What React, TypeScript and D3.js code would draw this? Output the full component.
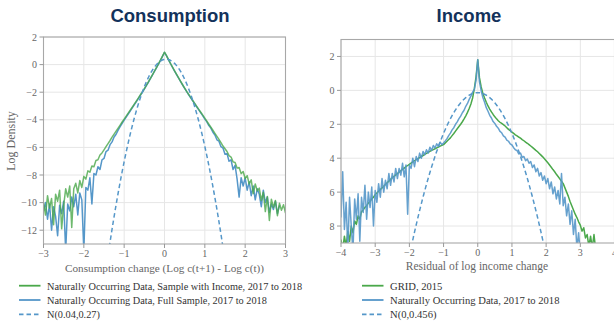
import React from "react";
import * as d3 from "d3";

// ---- Consumption panel: log density on a grid from -3 to 3, step 0.05 ----
const consGridStart = -3;
const consGridStep = 0.05;
const consIncomeSample = [
  -10.0, -10.9, -9.5, -10.4, -9.7, -11.6, -9.4, -9.9, -9.1, -11.9,
  -10.2, -9.0, -9.6, -8.8, -11.8, -9.0, -8.6, -9.3, -8.4, -8.9,
  -8.1, -8.3, -7.7, -7.8, -7.35, -7.4, -6.95, -6.9, -6.55, -6.4,
  -6.18, -5.95, -5.72, -5.5, -5.26, -5.04, -4.82, -4.6, -4.38, -4.16,
  -3.95, -3.73, -3.52, -3.3, -3.09, -2.87, -2.65, -2.43, -2.2, -1.98,
  -1.74, -1.5, -1.25, -1.0, -0.74, -0.48, -0.22, 0.05, 0.33, 0.62,
  0.9, 0.65, 0.36, 0.08, -0.19, -0.45, -0.71, -0.96, -1.21, -1.46,
  -1.7, -1.94, -2.16, -2.38, -2.6, -2.82, -3.03, -3.24, -3.45, -3.66,
  -3.88, -4.1, -4.32, -4.54, -4.76, -4.98, -5.2, -5.42, -5.65, -5.9,
  -6.1, -6.3, -6.6, -6.7, -7.05, -7.1, -7.5, -7.45, -7.9, -7.75,
  -8.25, -8.05, -8.65, -8.35, -9.35, -8.65, -9.15, -8.95, -9.85, -9.25,
  -10.65, -9.55, -11.3, -9.75, -10.35, -9.85, -10.95, -10.05, -10.55, -10.15,
  -10.75,
];
const consFullSample: (number | null)[] = [
  -10.6, -10.0, -11.2, -10.1, -12.0, -10.3, -11.0, -12.4, -10.2, -10.8,
  -9.9, -13.5, -10.1, -10.6, -9.6, -10.3, -9.4, -10.9, -9.3, -9.8,
  -13.5, -8.9, -9.1, -8.2, -10.1, -7.9, -8.0, -7.4, -7.6, -6.9,
  -6.8, -6.3, -6.2, -5.8, -5.6, -5.25, -5.05, -4.75, -4.5, -4.25,
  -4.02, -3.8, -3.58, -3.36, -3.14, -2.92, -2.7, -2.47, -2.24, -2.01,
  -1.77, -1.53, -1.28, -1.02, -0.76, -0.5, -0.24, 0.03, 0.31, 0.6,
  0.88, 0.63, 0.34, 0.06, -0.21, -0.47, -0.73, -0.98, -1.23, -1.48,
  -1.72, -1.96, -2.19, -2.41, -2.63, -2.85, -3.07, -3.28, -3.5, -3.72,
  -3.95, -4.15, -4.42, -4.6, -4.9, -5.1, -5.45, -5.55, -5.95, -6.05,
  -6.5, -6.45, -7.0, -6.9, -7.6, -7.3, -8.3, -9.6, -8.2, -8.8,
  -8.2, -9.1, -8.5, -9.5, -8.8, -9.8, -9.0, -9.4, -10.3, -9.1,
  -10.0, -9.6, -10.7, -10.1, -10.5, -9.9, -10.8, -10.2, null, null,
  null,
];
const consNormal = { mean: 0.04, sd: 0.27 };
const consXTicks = [-3, -2, -1, 0, 1, 2, 3];
const consYTicks = [-12, -10, -8, -6, -4, -2, 0, 2];

// ---- Income panel: log density on a grid from -4 to 3.5, step 0.05 ----
const incGridStart = -4;
const incGridStep = 0.05;
const incGrid2015: (number | null)[] = [
  -8.8, -9.4, -8.6, -9.2, -8.3, -8.9, -8.0, -8.4, -7.7, -7.9,
  -7.4, -7.6, -7.15, -7.05, -6.9, -6.8, -6.65, -6.55, -6.4, -6.3,
  -6.15, -6.05, -5.95, -5.85, -5.75, -5.65, -5.55, -5.45, -5.35, -5.25,
  -5.15, -5.07, -4.98, -4.9, -4.82, -4.74, -4.66, -4.58, -4.5, -4.43,
  -4.36, -4.29, -4.22, -4.15, -4.08, -4.02, -3.96, -3.9, -3.84, -3.78,
  -3.72, -3.66, -3.6, -3.54, -3.49, -3.44, -3.39, -3.34, -3.29, -3.24,
  -3.2, -3.1, -3.0, -2.9, -2.8, -2.67, -2.54, -2.4, -2.26, -2.13,
  -2.0, -1.85, -1.68, -1.5, -1.3, -1.07, -0.8, -0.45, 0.1, 0.8,
  1.8, 0.75, 0.2, -0.18, -0.45, -0.7, -0.92, -1.1, -1.27, -1.42,
  -1.56, -1.68, -1.79, -1.88, -1.95, -2.02, -2.1, -2.2, -2.3, -2.38,
  -2.46, -2.54, -2.62, -2.68, -2.75, -2.82, -2.9, -2.97, -3.05, -3.12,
  -3.2, -3.28, -3.36, -3.45, -3.54, -3.62, -3.72, -3.82, -3.92, -4.03,
  -4.15, -4.27, -4.4, -4.53, -4.67, -4.8, -4.95, -5.08, -5.22, -5.36,
  -5.5, -5.75, -6.0, -6.25, -6.55, -6.8, -7.05, -7.3, -7.5, -7.75,
  -7.95, -8.3, -8.1, -8.7, -8.5, -9.2, -8.6, -9.3, -8.5, -9.4,
  null,
];
const incNaturalData: (number | null)[] = [
  -7.5, -4.8, -8.2, -6.6, -9.4, -6.3, -8.0, -9.5, -6.4, -7.6,
  -6.1, -8.9, -6.3, -7.2, -5.6, -7.6, -6.0, -6.9, -5.7, -8.0,
  -5.9, -6.6, -5.5, -6.3, -5.2, -6.0, -5.3, -5.8, -4.9, -5.6,
  -4.9, -5.4, -4.6, -5.2, -4.6, -5.0, -4.3, -5.1, -4.4, -7.3,
  -4.4, -4.6, -4.0, -4.5, -3.9, -4.2, -3.7, -4.0, -3.6, -3.8,
  -3.5, -3.7, -3.35, -3.55, -3.25, -3.4, -3.15, -3.3, -3.05, -3.2,
  -3.1, -2.98, -2.85, -2.67, -2.52, -2.33, -2.2, -2.0, -1.86, -1.67,
  -1.52, -1.32, -1.17, -0.94, -0.77, -0.53, -0.34, -0.1, 0.05, 0.6,
  1.8, 0.5, -0.02, -0.42, -0.7, -1.02, -1.23, -1.47, -1.63, -1.84,
  -1.95, -2.12, -2.23, -2.42, -2.5, -2.68, -2.76, -2.93, -3.0, -3.16,
  -3.22, -3.38, -3.5, -3.55, -3.75, -3.7, -3.95, -3.9, -4.15, -4.05,
  -4.3, -4.2, -4.55, -4.4, -4.8, -4.6, -5.05, -4.85, -5.3, -5.05,
  -5.5, -5.2, -5.8, -5.4, -6.1, -5.7, -6.4, -5.9, -6.7, -4.9,
  -6.8, -6.3, -7.4, -6.7, -7.9, -7.1, -8.5, -7.6, -9.3, -8.4,
  -9.6, null, null, null, null, null, null, null, null, null,
  null,
];
const incNormal = { mean: 0, sd: 0.456 };
const incXTicks = [-4, -3, -2, -1, 0, 1, 2, 3, 4];
const incYTicks = [-8, -6, -4, -2, 0, 2];

const GREEN = "#4aa84a";
const BLUE = "#5597c9";
const TITLE = "#13325b";
const SERIF = "'Liberation Serif', 'DejaVu Serif', serif";
const SANS = "'Liberation Sans', Arial, sans-serif";

type Pt = [number, number];
type Series = { pts: [number, number | null][]; color: string; opacity?: number };

function gridPoints(start: number, step: number, vals: (number | null)[]): [number, number | null][] {
  return vals.map((v, i) => [start + i * step, v]);
}

// log density of the normal distribution named in the legend
function normalPoints(mean: number, sd: number, lo: number, hi: number): Pt[] {
  const c = -0.5 * Math.log(2 * Math.PI * sd * sd);
  return d3.range(lo, hi + 1e-9, 0.01).map((x) => [x, c - ((x - mean) * (x - mean)) / (2 * sd * sd)]);
}

type PanelProps = {
  id: string;
  x: d3.ScaleLinear<number, number>;
  y: d3.ScaleLinear<number, number>;
  xTicks: number[];
  yTicks: number[];
  yFmt: (v: number) => string;
  series: Series[];
  normal: Pt[];
};

function Panel({ id, x, y, xTicks, yTicks, yFmt, series, normal }: PanelProps) {
  const [x0, x1] = x.range();
  const [y0, y1] = y.range(); // y0 bottom, y1 top
  const line = d3
    .line<[number, number | null]>()
    .defined((d) => d[1] !== null)
    .x((d) => x(d[0]))
    .y((d) => y(d[1] as number));
  const nline = d3
    .line<Pt>()
    .x((d) => x(d[0]))
    .y((d) => y(d[1]));
  const fmt = (v: number) => (v < 0 ? "\u2212" + Math.abs(v) : String(v));
  return (
    <g>
      <defs>
        <clipPath id={id}>
          <rect x={x0} y={y1} width={x1 - x0} height={y0 - y1} />
        </clipPath>
      </defs>
      {xTicks.map((t) => (
        <line key={"gx" + t} x1={x(t)} x2={x(t)} y1={y1} y2={y0} stroke="#e6e6e6" strokeWidth={1} />
      ))}
      {yTicks.map((t) => (
        <line key={"gy" + t} x1={x0} x2={x1} y1={y(t)} y2={y(t)} stroke="#e6e6e6" strokeWidth={1} />
      ))}
      <g clipPath={`url(#${id})`}>
        {series.map((s, i) => (
          <path key={i} d={line(s.pts) || ""} fill="none" stroke={s.color} strokeWidth={1.5}
            strokeOpacity={s.opacity ?? 1} strokeLinejoin="round" />
        ))}
        <path d={nline(normal) || ""} fill="none" stroke={BLUE} strokeWidth={1.5} strokeDasharray="4.5,3" />
      </g>
      <rect x={x0} y={y1} width={x1 - x0} height={y0 - y1} fill="none" stroke="#a8a8a8" strokeWidth={1.1} />
      {xTicks.map((t) => (
        <g key={"tx" + t}>
          <line x1={x(t)} x2={x(t)} y1={y0} y2={y0 + 4} stroke="#999" />
          <text x={x(t)} y={y0 + 13} textAnchor="middle" fontSize={10} fill="#666" fontFamily={SERIF}>
            {fmt(t)}
          </text>
        </g>
      ))}
      {yTicks.map((t) => (
        <g key={"ty" + t}>
          <line x1={x0 - 4} x2={x0} y1={y(t)} y2={y(t)} stroke="#999" />
          <text x={x0 - 6.5} y={y(t) + 3.5} textAnchor="end" fontSize={10} fill="#666" fontFamily={SERIF}>
            {yFmt(t)}
          </text>
        </g>
      ))}
    </g>
  );
}

function Legend({ x, y, size, items }: { x: number; y: number; size: number; items: { label: string; color: string; dash?: boolean }[] }) {
  return (
    <g>
      {items.map((it, i) => (
        <g key={i} transform={`translate(${x},${y + i * 14.3})`}>
          <line x1={0} x2={21.5} y1={0} y2={0} stroke={it.color} strokeWidth={1.8}
            strokeDasharray={it.dash ? "4.5,3" : undefined} />
          <text x={28} y={3.8} fontSize={size} fill="#333" fontFamily={SERIF}>
            {it.label}
          </text>
        </g>
      ))}
    </g>
  );
}

export default function App() {
  const cx = d3.scaleLinear().domain([-3, 3]).range([43.5, 285.5]);
  const cy = d3.scaleLinear().domain([-13, 2]).range([244, 37]);
  const ix = d3.scaleLinear().domain([-4, 4]).range([341, 614.5]);
  const iy = d3.scaleLinear().domain([-9, 3]).range([243, 39.5]);

  const signed = (v: number) => (v < 0 ? "\u2212" + Math.abs(v) : String(v));
  const unsigned = (v: number) => String(Math.abs(v));

  return (
    <svg width={614} height={321} style={{ position: "absolute", left: 0, top: 0, background: "#fff" }}>
      <rect width={614} height={321} fill="#fff" />
      <text x={170} y={21.5} textAnchor="middle" fontSize={18.5} fontWeight="bold" fill={TITLE} fontFamily={SANS}>
        Consumption
      </text>
      <text x={469} y={21.5} textAnchor="middle" fontSize={18.5} fontWeight="bold" fill={TITLE} fontFamily={SANS}>
        Income
      </text>

      <Panel
        id="clip-cons"
        x={cx}
        y={cy}
        xTicks={consXTicks}
        yTicks={consYTicks}
        yFmt={signed}
        series={[
          { pts: gridPoints(consGridStart, consGridStep, consFullSample), color: BLUE },
          { pts: gridPoints(consGridStart, consGridStep, consIncomeSample), color: GREEN, opacity: 0.8 },
        ]}
        normal={normalPoints(consNormal.mean, consNormal.sd, -3, 3)}
      />
      <text transform="translate(15,141) rotate(-90)" textAnchor="middle" fontSize={12} fill="#666" fontFamily={SERIF}>
        Log Density
      </text>
      <text x={164.5} y={272} textAnchor="middle" fontSize={11.2} fill="#666" fontFamily={SERIF}>
        Consumption change (Log c(t+1) - Log c(t))
      </text>

      <Panel
        id="clip-inc"
        x={ix}
        y={iy}
        xTicks={incXTicks}
        yTicks={incYTicks}
        yFmt={unsigned}
        series={[
          { pts: gridPoints(incGridStart, incGridStep, incGrid2015), color: GREEN },
          { pts: gridPoints(incGridStart, incGridStep, incNaturalData), color: BLUE, opacity: 0.9 },
        ]}
        normal={normalPoints(incNormal.mean, incNormal.sd, -4, 4)}
      />
      <text x={477} y={270} textAnchor="middle" fontSize={11.5} fill="#666" fontFamily={SERIF}>
        Residual of log income change
      </text>

      <Legend
        x={19}
        y={285.7}
        size={10.3}
        items={[
          { label: "Naturally Occurring Data, Sample with Income, 2017 to 2018", color: GREEN },
          { label: "Naturally Occurring Data, Full Sample, 2017 to 2018", color: BLUE },
          { label: "N(0.04,0.27)", color: BLUE, dash: true },
        ]}
      />
      <Legend
        x={362}
        y={285.7}
        size={10.6}
        items={[
          { label: "GRID, 2015", color: GREEN },
          { label: "Naturally Occurring Data, 2017 to 2018", color: BLUE },
          { label: "N(0,0.456)", color: BLUE, dash: true },
        ]}
      />
    </svg>
  );
}
